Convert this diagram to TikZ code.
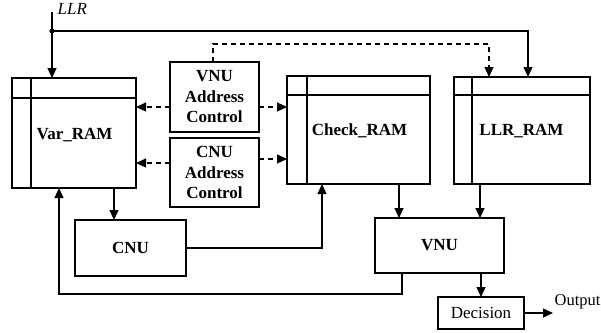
\documentclass[tikz,border=0pt]{standalone}
\usepackage{fontspec}
\setmainfont{Liberation Serif}
\usetikzlibrary{arrows.meta}
\begin{document}
\begin{tikzpicture}[x=1pt,y=-1pt,
  line width=1.2pt,
  box/.style={draw, line width=1.3pt, inner sep=0pt, outer sep=0pt,
    font=\fontsize{17}{20.5}\selectfont\bfseries, align=center},
  lbl/.style={inner sep=0pt, font=\fontsize{17}{20.5}\selectfont\bfseries},
  plain/.style={inner sep=0pt, font=\fontsize{17}{20.5}\selectfont},
  arr/.style={-{Triangle[length=10pt,width=9pt]}},
  darr/.style={arr, dash pattern=on 5pt off 4pt},
  ]
\useasboundingbox (0,0) rectangle (601,332);

% boxes
\node[box, minimum width=124pt, minimum height=110pt] (var) at (74,133) {};
\node[box, minimum width=89pt, minimum height=70pt] (vac) at (214.5,97) {VNU\\Address\\Control};
\node[box, minimum width=89pt, minimum height=69pt] (cac) at (214.5,172.5) {CNU\\Address\\Control};
\node[box, minimum width=143pt, minimum height=108pt] (chk) at (358.5,130) {};
\node[box, minimum width=136pt, minimum height=107pt] (llr) at (522,130.5) {};
\node[box, minimum width=111pt, minimum height=56pt] (cnu) at (130.5,248) {CNU};
\node[box, minimum width=129pt, minimum height=55pt] (vnu) at (439.5,245.5) {VNU};
\node[box, minimum width=86pt, minimum height=32pt, font=\fontsize{17}{20.5}\selectfont] (dec) at (481,313) {Decision};

% RAM inner lines
\draw[line width=1.3pt] ([xshift=19pt]var.north west) -- ([xshift=19pt]var.south west);
\draw[line width=1.3pt] ([yshift=-20pt]var.north west) -- ([yshift=-20pt]var.north east);
\draw[line width=1.3pt] ([xshift=20pt]chk.north west) -- ([xshift=20pt]chk.south west);
\draw[line width=1.3pt] ([yshift=-19pt]chk.north west) -- ([yshift=-19pt]chk.north east);
\draw[line width=1.3pt] ([xshift=18pt]llr.north west) -- ([xshift=18pt]llr.south west);
\draw[line width=1.3pt] ([yshift=-18pt]llr.north west) -- ([yshift=-18pt]llr.north east);

% labels
\node[lbl, anchor=base] (varl) at (74.5,139) {Var\_RAM};
\node[lbl, anchor=base] (chkl) at (359.5,135) {Check\_RAM};
\node[lbl, anchor=base] (llrl) at (521.5,135) {LLR\_RAM};
\node[plain, anchor=base west, font=\fontsize{17}{20.5}\selectfont\itshape] (llrlab) at (57,14) {LLR};
\node[plain, anchor=base west, font=\fontsize{16.5}{20}\selectfont] (outl) at (554,305) {Output};

% LLR input
\coordinate (llrin) at (52,12);
\coordinate (junc) at (52,31);
\draw[arr] (llrin) -- (llrin |- var.north);
\fill (junc) circle (2.6pt);
\coordinate (llrx) at (528,0);
\draw[arr] (junc) -| (llrx |- llr.north);

% dashed control to LLR_RAM
\coordinate (dtop) at (213,44);
\coordinate (dx) at (489,0);
\draw[darr] (vac.north -| dtop) -- (dtop) -| (dx |- llr.north);

% address controls
\coordinate (ya) at (0,107);
\coordinate (yb) at (0,163);
\coordinate (yc) at (0,159);
\draw[darr] (vac.west |- ya) -- (var.east |- ya);
\draw[darr] (vac.east |- ya) -- (chk.west |- ya);
\draw[darr] (cac.west |- yb) -- (var.east |- yb);
\draw[darr] (cac.east |- yc) -- (chk.west |- yc);

% data paths
\coordinate (xa) at (114,0);
\draw[arr] (var.south -| xa) -- (cnu.north -| xa);
\coordinate (xb) at (322,0);
\draw[arr] (cnu.east) -| (chk.south -| xb);
\coordinate (xc) at (399,0);
\draw[arr] (chk.south -| xc) -- (vnu.north -| xc);
\coordinate (xd) at (480,0);
\draw[arr] (llr.south -| xd) -- (vnu.north -| xd);
\coordinate (xe) at (402,0);
\coordinate (fb) at (59,294);
\draw[arr] (vnu.south -| xe) |- (fb) -- (fb |- var.south);
\draw[arr] (vnu.south -| dec.north) -- (dec.north);
\coordinate (outp) at (553,313);
\draw[arr] (dec.east) -- (outp);
\end{tikzpicture}
\end{document}
